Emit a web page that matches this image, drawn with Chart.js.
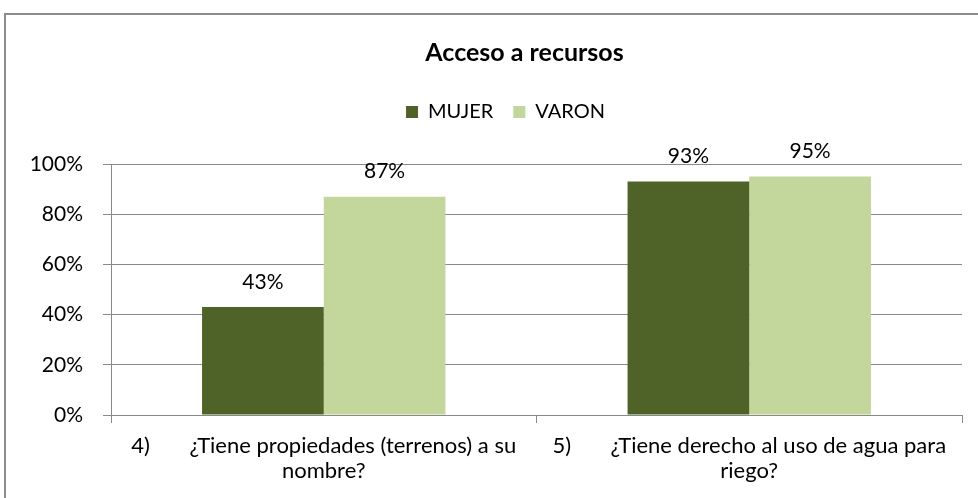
<!DOCTYPE html>
<html>
<head>
<meta charset="utf-8">
<script src="https://cdn.jsdelivr.net/npm/chart.js@4.4.0/dist/chart.umd.min.js"></script>
<style>
  html, body { margin: 0; padding: 0; background: #fff; overflow: hidden; width: 978px; height: 498px; }
  #frame { position: absolute; left: 4px; top: 13px; width: 1100px; height: 600px; border: 2px solid #8c8c8c; box-sizing: border-box; }
  #wrap { position: absolute; left: 0; top: 0; width: 1049px; height: 498px; }
</style>
</head>
<body>
<div id="frame"></div>
<div id="wrap"><canvas id="grafico"></canvas></div>
<script>
const categorias = [
  ['4)       ¿Tiene propiedades (terrenos) a su', 'nombre?'],
  ['5)       ¿Tiene derecho al uso de agua para', 'riego?']
];
const mujer = [43, 93];
const varon = [87, 95];
const ticksY = [0, 20, 40, 60, 80, 100];

const colores = { mujer: '#4f6228', varon: '#c3d69b' };
const gris = '#898989';

// etiquetas de valor encima de cada barra
const etiquetas = {
  id: 'etiquetas',
  afterDatasetsDraw(chart) {
    const ctx = chart.ctx;
    ctx.save();
    ctx.font = '21px Lato';
    ctx.fillStyle = '#000';
    ctx.textAlign = 'center';
    ctx.textBaseline = 'middle';
    chart.data.datasets.forEach((ds, i) => {
      chart.getDatasetMeta(i).data.forEach((bar, j) => {
        ctx.fillText(ds.data[j] + '%', bar.x, bar.y - 25);
      });
    });
    ctx.restore();
  }
};

// ajusta alto y posicion de la leyenda
const leyenda = {
  id: 'leyenda',
  beforeInit(chart) {
    const fitOrig = chart.legend.fit;
    chart.legend.fit = function () {
      fitOrig.bind(chart.legend)();
      this.height = 82;
    };
  },
  afterLayout(chart) {
    chart.legend.left -= 19;
    chart.legend.right -= 19;
  }
};

new Chart(document.getElementById('grafico'), {
  type: 'bar',
  data: {
    labels: categorias,
    datasets: [
      { label: 'MUJER', data: mujer, backgroundColor: colores.mujer },
      { label: 'VARON', data: varon, backgroundColor: colores.varon }
    ]
  },
  options: {
    responsive: true,
    maintainAspectRatio: false,
    animation: false,
    layout: { padding: 0 },
    datasets: { bar: { categoryPercentage: 0.572, barPercentage: 1 } },
    plugins: {
      title: {
        display: true,
        text: 'Acceso a recursos',
        color: '#000',
        font: { family: 'Lato', size: 25, weight: 'bold' },
        padding: { top: 38, bottom: 14 }
      },
      legend: {
        display: true,
        position: 'top',
        labels: {
          color: '#000',
          font: { family: 'Lato', size: 20 },
          boxWidth: 12,
          boxHeight: 12,
          padding: 20
        }
      },
      tooltip: { enabled: false }
    },
    scales: {
      x: {
        grid: { offset: true, drawOnChartArea: false, drawTicks: true, tickLength: 8, color: gris },
        border: { color: gris },
        ticks: {
          color: '#000',
          font: { family: 'Lato', size: 22, lineHeight: 1.15 },
          maxRotation: 0,
          autoSkip: false,
          padding: 10
        },
        afterFit: s => { s.height = 83; }
      },
      y: {
        min: 0,
        max: 100,
        afterBuildTicks: s => { s.ticks = ticksY.map(v => ({ value: v })); },
        grid: { color: gris, tickLength: 8 },
        border: { color: gris },
        ticks: {
          color: '#000',
          font: { family: 'Lato', size: 21 },
          padding: 20,
          callback: v => v + '%'
        },
        afterFit: s => { s.width = 111; }
      },
      y2: {
        position: 'right',
        grid: { display: false },
        border: { display: false },
        ticks: { display: false },
        afterFit: s => { s.width = 87; }
      }
    }
  },
  plugins: [etiquetas, leyenda]
});
</script>
</body>
</html>
